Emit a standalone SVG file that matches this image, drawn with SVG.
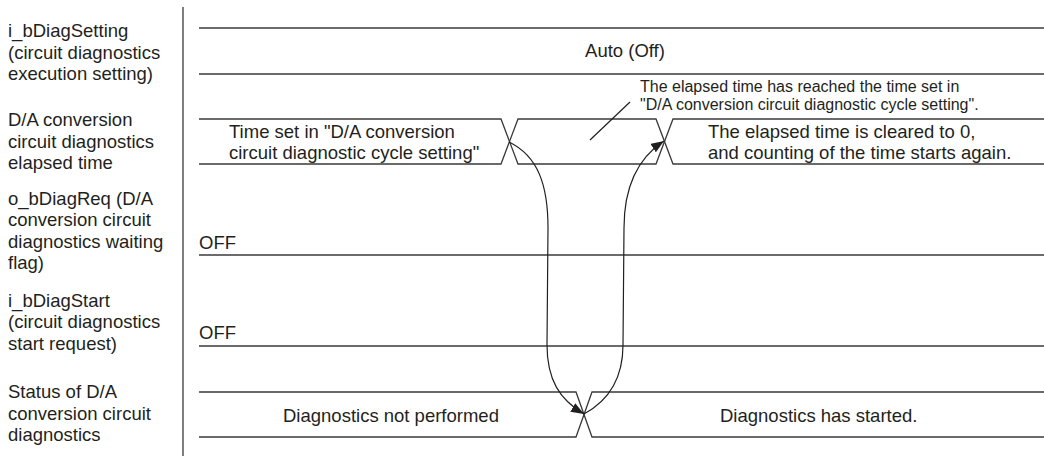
<svg xmlns="http://www.w3.org/2000/svg" width="1044" height="456" viewBox="0 0 1044 456">
<style>
text{font-family:"Liberation Sans",Arial,sans-serif;fill:#231f20}
.lbl{font-size:18.5px}
.sm{font-size:16px}
.ln{fill:none;stroke:#3a3a3a;stroke-width:1.3}
.cn{fill:none;stroke:#231f20;stroke-width:1.2}
</style>
<defs>
<marker id="ah" markerUnits="userSpaceOnUse" markerWidth="14" markerHeight="10" refX="13" refY="5" orient="auto">
<path d="M0,0 L13,5 L0,10 z" fill="#231f20"/>
</marker>
</defs>
<rect width="1044" height="456" fill="#fff"/>
<line class="ln" x1="183" y1="7" x2="183" y2="456"/>

<g id="sig-diagsetting">
<text class="lbl" x="8"><tspan x="8" y="37">i_bDiagSetting</tspan><tspan x="8" y="58.5">(circuit diagnostics</tspan><tspan x="8" y="80">execution setting)</tspan></text>
<line class="ln" x1="199" y1="28" x2="1044" y2="28"/>
<line class="ln" x1="199" y1="74" x2="1044" y2="74"/>
<text class="lbl" x="625" y="57" text-anchor="middle">Auto (Off)</text>
</g>

<g id="sig-elapsed">
<text class="lbl"><tspan x="8" y="126">D/A conversion</tspan><tspan x="8" y="147.5">circuit diagnostics</tspan><tspan x="8" y="169">elapsed time</tspan></text>
<path class="ln" d="M199,119 H501 L518,164 H656 L673,119 H1044"/>
<path class="ln" d="M199,164 H501 L518,119 H656 L673,164 H1044"/>
<text class="lbl"><tspan x="229" y="137.5">Time set in "D/A conversion</tspan><tspan x="229" y="158.5">circuit diagnostic cycle setting"</tspan></text>
<text class="lbl"><tspan x="708" y="137.5">The elapsed time is cleared to 0,</tspan><tspan x="708" y="158.5">and counting of the time starts again.</tspan></text>
<text class="sm"><tspan x="640" y="92">The elapsed time has reached the time set in</tspan><tspan x="640" y="110">"D/A conversion circuit diagnostic cycle setting".</tspan></text>
</g>

<g id="sig-diagreq">
<text class="lbl"><tspan x="8" y="204.5">o_bDiagReq (D/A</tspan><tspan x="8" y="226">conversion circuit</tspan><tspan x="8" y="247.5">diagnostics waiting</tspan><tspan x="8" y="269">flag)</tspan></text>
<line class="ln" x1="199" y1="255" x2="1044" y2="255"/>
<text class="lbl" x="199" y="248.5">OFF</text>
</g>

<g id="sig-diagstart">
<text class="lbl"><tspan x="8" y="306.5">i_bDiagStart</tspan><tspan x="8" y="328">(circuit diagnostics</tspan><tspan x="8" y="349.5">start request)</tspan></text>
<line class="ln" x1="199" y1="346" x2="1044" y2="346"/>
<text class="lbl" x="199" y="338.5">OFF</text>
</g>

<g id="sig-status">
<text class="lbl"><tspan x="8" y="398">Status of D/A</tspan><tspan x="8" y="419.5">conversion circuit</tspan><tspan x="8" y="441">diagnostics</tspan></text>
<path class="ln" d="M199,392 H576 L592,437 H1044"/>
<path class="ln" d="M199,437 H576 L592,392 H1044"/>
<text class="lbl" x="283" y="422">Diagnostics not performed</text>
<text class="lbl" x="720" y="422">Diagnostics has started.</text>
</g>

<g id="connectors">
<line class="cn" x1="630" y1="102" x2="590" y2="140"/>
<path class="cn" marker-end="url(#ah)" d="M509,142 C538,156 548,185 548,228 L547,345 C547,380 560,400 584,414"/>
<path class="cn" marker-end="url(#ah)" d="M584,414 C606,402 623,382 623,345 L624,228 C624,185 638,158 664,141"/>
</g>
</svg>
